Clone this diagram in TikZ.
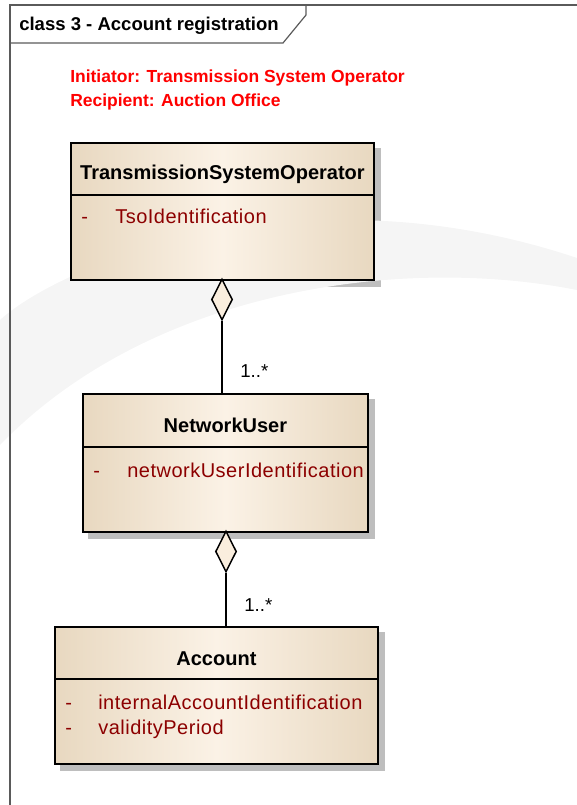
\documentclass[tikz,border=0pt]{standalone}
\usepackage{fontspec}
\setmainfont{Liberation Sans}
\newfontfamily\attrfont[LetterSpace=2.5]{Liberation Sans}
\usepackage{xcolor}
\usepackage{tikz}
\usetikzlibrary{positioning,shapes.geometric}
\pgfdeclarelayer{bg}
\pgfsetlayers{bg,main}

\definecolor{beigeedge}{RGB}{232,216,192}
\definecolor{beigemid}{RGB}{251,242,230}
\definecolor{beigediam}{RGB}{250,238,222}
\definecolor{shadegray}{RGB}{190,190,190}
\definecolor{attrred}{RGB}{140,0,0}
\definecolor{framegray}{RGB}{90,90,90}
\definecolor{wmgray}{RGB}{245,245,245}

\tikzset{
  classbox/.style={draw, line width=1.4pt, rectangle, inner sep=0pt, anchor=north west,
    left color=beigeedge, right color=beigeedge, middle color=beigemid},
  boxshade/.style={fill=shadegray},
  divider/.style={line width=1.1pt},
  aggr/.style={diamond, draw, line width=1.1pt, fill=beigediam,
    minimum width=15.75pt, minimum height=30.75pt, inner sep=0pt},
  assoc/.style={line width=1.4pt},
  titletxt/.style={inner sep=0pt, font=\fontsize{15pt}{18pt}\selectfont\bfseries},
  attrtxt/.style={inner sep=0pt, text=attrred, font=\attrfont\fontsize{15pt}{18pt}\selectfont},
  multtxt/.style={inner sep=0pt, font=\fontsize{14pt}{17pt}\selectfont},
  headtxt/.style={inner sep=0pt, font=\fontsize{13.9pt}{16pt}\selectfont\bfseries},
  redtxt/.style={inner sep=0pt, text=red, font=\fontsize{13.1pt}{16pt}\selectfont\bfseries},
  framecol/.style={draw=framegray, line width=0.9pt}
}

\begin{document}
\begin{tikzpicture}[x=0.75pt,y=0.75pt,yscale=-1,xscale=1]
		\useasboundingbox (0,0) rectangle (577,805);
		
		%Watermark
		\fill[wmgray] (0,320) .. controls (60,265) and (300,165) .. (577,258) -- (577,290) .. controls (400,255) and (150,290) .. (0,445) -- cycle;
		
		%Frame
		\draw[framecol] (10,805) -- (10,5) -- (577,5) ;
		\draw[framecol] (10,43) -- (283,43) -- (306,15) -- (306,5) ;
		
		% Text Node
		\draw (19,31) node (header) [headtxt, anchor=base west] {class 3 - Account registration};
		% Text Node
		\draw (70,83) node (initiator) [redtxt, anchor=base west] {Initiator: Transmission System Operator};
		% Text Node
		\draw (70,107) node (recipient) [redtxt, anchor=base west] {Recipient: Auction Office};
		
		%Class boxes
		\draw (70,142) node (tso) [classbox, minimum width=227.25pt, minimum height=102.75pt] {};
		\draw (82,393) node (nu) [classbox, minimum width=213.75pt, minimum height=103.5pt] {};
		\draw (54,626) node (acc) [classbox, minimum width=242.25pt, minimum height=102.75pt] {};
		
		\begin{pgfonlayer}{bg}
		\fill[boxshade] ([shift={(6,6)}]tso.north west) rectangle ([shift={(6,6)}]tso.south east);
		\fill[boxshade] ([shift={(6,6)}]nu.north west) rectangle ([shift={(6,6)}]nu.south east);
		\fill[boxshade] ([shift={(6,6)}]acc.north west) rectangle ([shift={(6,6)}]acc.south east);
		\end{pgfonlayer}
		
		%Straight Lines
		\draw[divider] (tso.west |- 0,195) -- (tso.east |- 0,195) ;
		\draw[divider] (nu.west |- 0,447) -- (nu.east |- 0,447) ;
		\draw[divider] (acc.west |- 0,679) -- (acc.east |- 0,679) ;
		
		% Text Node
		\draw (tso.center |- 0,180) node (tsoname) [titletxt, anchor=base] {TransmissionSystemOperator};
		\draw (81,224) node (tsodash) [attrtxt, anchor=base west] {-};
		\draw (115,224) node (tsoattr) [attrtxt, anchor=base west] {TsoIdentification};
		% Text Node
		\draw (nu.center |- 0,432) node (nuname) [titletxt, anchor=base] {NetworkUser};
		\draw (93,477) node (nudash) [attrtxt, anchor=base west] {-};
		\draw (127,477) node (nuattr) [attrtxt, anchor=base west] {networkUserIdentification};
		% Text Node
		\draw (acc.center |- 0,665) node (accname) [titletxt, anchor=base] {Account};
		\draw (65,709) node (accdash) [attrtxt, anchor=base west] {-};
		\draw (98,709) node (accattr) [attrtxt, anchor=base west] {internalAccountIdentification};
		\draw (65,734) node (accdash2) [attrtxt, anchor=base west] {-};
		\draw (98,734) node (accattr2) [attrtxt, anchor=base west] {validityPeriod};
		
		%Aggregations
		\draw (222,299.5) node (agg1) [aggr] {};
		\draw[assoc] (agg1.south) -- (agg1.south |- nu.north) ;
		\draw (240,377) node (mult1) [multtxt, anchor=base west] {1..*};
		
		\draw (226,551.5) node (agg2) [aggr] {};
		\draw[assoc] (agg2.south) -- (agg2.south |- acc.north) ;
		\draw (244,611) node (mult2) [multtxt, anchor=base west] {1..*};
		
\end{tikzpicture}
\end{document}
